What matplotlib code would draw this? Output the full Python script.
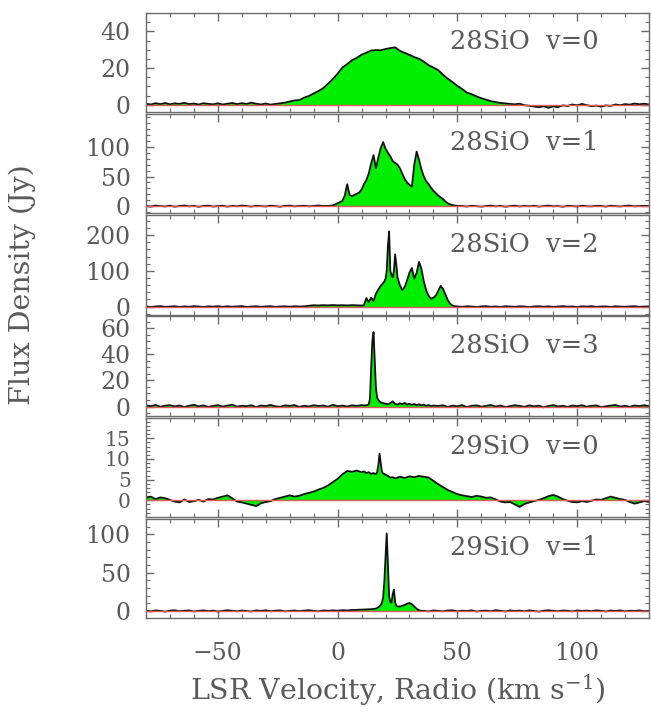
import matplotlib
matplotlib.use("Agg")
import matplotlib.pyplot as plt
from matplotlib.ticker import MultipleLocator, AutoMinorLocator, FixedLocator

# ---------------- spectra (velocity in km/s, flux density in Jy) ----------------
titles = ["28SiO  v=0", "28SiO  v=1", "28SiO  v=2", "28SiO  v=3", "29SiO  v=0", "29SiO  v=1"]

# 28SiO v=0
vel_28_v0 = list(range(-80, 131, 2))
flux_28_v0 = [
    0.6, 0.2, 0.9, 0.4, 1.0, 0.3, 0.8, 0.5, 1.1, 0.4, 0.7, 0.2, 0.9, 0.5, 0.3,
    0.8, 0.2, 0.6, 1.0, 0.4, 0.9, 0.5, 1.2, 0.6, 0.2, 0.7, 0.1, 0.5, 0.8,
    1.2, 1.8, 2.4, 2.6, 3.9, 4.8, 6.2, 7.5, 9.1, 11.5, 14.0, 17.0, 20.3, 22.2,
    24.3, 25.6, 27.3, 28.4, 29.6, 29.8, 29.7, 30.4, 30.9, 31.3, 29.4, 28.3, 27.2,
    26.0, 25.1, 23.5, 21.6, 20.3, 18.9, 16.4, 14.2, 12.4, 10.3, 8.6, 6.6, 5.8,
    4.6, 3.6, 2.8, 2.0, 1.5, 1.0, 0.8,
    0.5, 0.3, 0.6, -0.2, -0.5, -0.9, -1.3, -0.8, -1.6, -0.9, -1.2, -0.3, -0.6,
    0.2, -0.3, 0.5, -0.2, -0.7, -0.4, -1.0, -0.3, -0.6, 0.2, -0.2, 0.4, 0.1,
    0.7, 0.3, 0.6, 0.2,
]

# 28SiO v=1
vel_28_v1 = list(range(-80, -3, 2)) + list(range(-3, 51)) + list(range(52, 131, 2))
flux_28_v1 = [
    0.5, -0.6, 1.1, 0.2, -0.4, 0.9, -0.8, 0.3, 1.2, -0.2, 0.6, -0.9, 0.4, 1.0,
    -0.5, 0.2, 0.8, -0.7, 0.5, -0.1, 1.1, 0.3, -0.6, 0.7, 0.1, -0.4, 0.9, 0.2,
    -0.8, 0.6, 1.0, -0.3, 0.4, 0.8, -0.2, 0.5, 1.2, 0.3, 0.7,
    0.8, 1.5, 3.0, 5.0, 7.0, 9.0, 18.0, 37.0, 19.0, 17.0, 19.0, 21.0, 23.0, 28.0,
    37.0, 44.0, 55.0, 72.0, 86.0, 64.0, 82.0, 98.0, 108.0, 97.0, 90.0, 84.0,
    76.0, 73.0, 70.0, 64.0, 55.0, 46.0, 40.0, 36.0, 33.0, 70.0, 92.0, 78.0, 62.0,
    50.0, 42.0, 37.0, 31.0, 26.0, 22.0, 18.0, 15.0, 12.0, 8.0, 5.0, 3.0, 2.0,
    1.0, 0.5,
    0.3, -0.5, 0.8, 0.1, -0.7, 0.4, 1.0, -0.3, 0.6, -0.8, 0.2, 0.9, -0.4, 0.5,
    -0.1, 0.7, -0.6, 0.3, 1.1, -0.2, 0.4, -0.9, 0.6, 0.2, -0.5, 0.8, 0.0, -0.3,
    0.7, 0.4, -0.6, 0.9, 0.1, -0.4, 0.6, 1.0, -0.2, 0.3, 0.8, 0.2,
]

# 28SiO v=2
vel_28_v2 = (list(range(-80, 11, 2)) + list(range(11, 20))
             + [19.5, 20, 20.5, 21, 21.5, 22, 22.5, 23, 23.5, 24, 24.5, 25, 25.5]
             + list(range(26, 51)) + list(range(52, 131, 2)))
flux_28_v2 = [
    0.8, -1.2, 0.5, 1.4, -0.6, 0.2, 1.1, -0.9, 0.6, -0.3, 1.3, 0.4, -1.0, 0.7,
    0.1, 1.2, -0.5, 0.9, -0.2, 0.5, 1.5, -0.8, 0.3, 1.0, -0.4, 0.6, 1.2, -0.7,
    0.4, 0.9, -0.1, 1.1, 0.3, 0.8,
    2.5, 3.8, 3.2, 4.1, 3.5, 4.4, 3.6, 4.0, 3.3, 4.2, 3.7, 3.0,
    4.0, 24.0, 13.0, 25.0, 16.0, 36.0, 48.0, 58.0, 66.0,
    70.0, 78.0, 100.0, 170.0, 210.0, 100.0, 88.0, 82.0, 100.0, 146.0, 118.0, 82.0, 70.0,
    60.0, 46.0, 55.0, 73.0, 95.0, 108.0, 78.0, 95.0, 125.0, 105.0, 70.0, 45.0,
    30.0, 22.0, 25.0, 31.0, 44.0, 58.0, 50.0, 34.0, 18.0, 8.0, 3.0, 1.0, 0.5,
    -0.6, 1.0, 0.3, -1.1, 0.7, 1.3, -0.4, 0.5, -0.9, 1.2, 0.2, -0.5, 0.9, 0.4,
    -1.3, 0.6, 1.1, -0.2, 0.8, -0.7, 0.3, 1.4, -0.1, 0.5, -1.0, 0.9, 0.2, 1.2,
    -0.6, 0.4, 0.7, -0.8, 1.0, 0.1, -0.3, 0.6, 1.1, -0.5, 0.3, 0.8,
]

# 28SiO v=3
vel_28_v3 = (list(range(-80, 11, 2))
             + [11, 12, 12.5, 13, 13.5, 14, 14.5, 15, 15.5, 16, 16.5, 17, 17.5, 18, 19, 20]
             + list(range(21, 41)) + list(range(42, 131, 2)))
flux_28_v3 = [
    0.9, 0.3, 1.2, -0.2, 0.7, 1.0, 0.1, 0.8, -0.4, 0.6, 1.3, 0.2, 0.9, -0.3,
    0.5, 1.1, 0.0, 0.7, 1.4, -0.1, 0.6, 0.3, 1.0, -0.5, 0.8, 0.4, 1.2, 0.2,
    -0.2, 0.9, 0.5, 1.1, -0.3, 0.6, 0.1, 1.0, 0.4, 0.8, -0.1, 1.3, 0.3, 0.7,
    0.0, 0.9, 0.5, 1.1,
    0.8, 1.0, 1.2, 1.8, 6.0, 30.0, 50.0, 57.0, 35.0, 14.0, 7.0, 5.0, 4.0, 3.2,
    2.6, 2.2,
    1.8, 2.6, 4.0, 2.0, 1.5, 2.5, 1.8, 2.8, 1.5, 2.2, 1.2, 2.0, 1.0, 1.8, 0.8,
    1.5, 0.5, 1.2, 0.3, 0.8,
    0.4, 1.0, -0.3, 0.7, 0.2, 1.1, -0.5, 0.6, 0.9, -0.1, 0.5, 1.2, 0.0, 0.8,
    -0.4, 0.3, 1.0, 0.5, -0.2, 0.9, 0.2, 0.7, -0.6, 0.4, 1.1, 0.1, 0.6, -0.3,
    0.8, 0.3, 1.0, -0.1, 0.5, 0.9, -0.4, 0.2, 0.7, 1.2, 0.0, 0.6, -0.2, 0.8,
    0.4, 1.0, 0.3,
]

# 29SiO v=0
vel_29_v0 = (list(range(-80, 10, 2)) + list(range(10, 17))
             + [16.5, 17, 17.5, 18, 18.5, 19] + list(range(20, 27))
             + list(range(28, 131, 2)))
flux_29_v0 = [
    0.6, 0.9, 0.3, 0.7, 0.5, 0.1, -0.3, -0.5, 0.2, -0.4, -0.2, 0.1, -0.3, 0.3,
    0.2, 0.6, 0.9, 1.2, 0.5, -0.3, -0.5, -0.8, -1.1, -1.4, -0.7, -0.4, -0.2,
    0.3, 0.6, 0.9, 1.2, 0.9, 1.1, 1.5, 1.8, 2.1, 2.6, 3.0, 3.6, 4.4, 5.2, 6.3,
    7.1, 6.9, 7.2,
    6.8, 7.0, 6.6, 6.8, 6.4, 6.6, 6.3,
    6.8, 8.5, 11.3, 9.0, 6.9, 6.5,
    6.2, 5.9, 5.5, 5.6, 5.3, 5.5, 5.7,
    5.4, 5.8, 5.6, 5.9, 5.7, 5.5, 4.7, 3.9, 3.2, 2.5, 2.0, 1.5, 1.2, 1.0, 0.8,
    1.1, 0.9, 0.6, 0.7, 0.2, -0.3, -0.5, -0.4, -1.0, -1.6, -0.9, -0.5, -0.2,
    0.1, 0.5, 1.0, 1.3, 0.9, 0.3, -0.1, -0.4, -0.5, -0.2, -0.4, -0.1, 0.2, 0.1,
    0.5, 0.9, 0.6, 0.3, 0.1, -0.4, -0.8, -0.5, -0.2, -0.4,
]

# 29SiO v=1
vel_29_v1 = (list(range(-80, 15, 2))
             + [15, 15.5, 16, 16.5, 17, 17.5, 18, 18.5, 19, 19.5, 20, 20.5, 21,
                21.5, 22, 22.5, 23, 23.5, 24, 24.5, 25]
             + list(range(26, 36)) + list(range(36, 131, 2)))
flux_29_v1 = [
    0.5, -0.4, 0.9, 0.2, -0.7, 0.6, 1.0, -0.2, 0.4, 0.8, -0.5, 0.3, 0.9, -0.1,
    0.6, -0.6, 0.2, 1.1, 0.4, -0.3, 0.7, 0.1, -0.5, 0.8, 0.3, 1.0, -0.2, 0.5,
    0.9, -0.4, 0.2, 0.7, -0.1, 0.6, 1.1, 0.3, -0.3, 0.8, 0.4, 0.9,
    0.5, 1.2, 0.8, 1.4, 1.6, 1.9, 2.2, 2.5,
    2.8, 3.0, 3.3, 4.0, 5.0, 6.0, 8.0, 11.0, 18.0, 38.0, 70.0, 101.0, 60.0,
    20.0, 12.0, 11.0, 22.0, 28.0, 12.0, 7.0, 6.0,
    6.0, 7.0, 8.0, 9.5, 10.5, 9.0, 6.0, 3.0, 1.0, 0.3,
    0.4, -0.5, 0.8, 0.2, -0.3, 0.7, 1.0, -0.4, 0.5, 0.1, 0.9, -0.6, 0.3, 0.6,
    -0.2, 1.1, 0.4, -0.5, 0.8, 0.2, 0.6, -0.3, 0.9, 0.1, -0.7, 0.5, 1.0, 0.3,
    -0.2, 0.7, 0.4, -0.4, 0.8, 0.2, 0.6, -0.1, 1.0, 0.3, -0.5, 0.7, 0.1, 0.9,
    -0.3, 0.5, 0.2, 0.8, -0.2, 0.4,
]

velocities = [vel_28_v0, vel_28_v1, vel_28_v2, vel_28_v3, vel_29_v0, vel_29_v1]
fluxes = [flux_28_v0, flux_28_v1, flux_28_v2, flux_28_v3, flux_29_v0, flux_29_v1]

y_limits = [(-4, 50), (-12, 155), (-22, 255), (-7, 69), (-4, 20), (-9, 120)]
y_ticks = [[0, 20, 40], [0, 50, 100], [0, 100, 200], [0, 20, 40, 60],
           [0, 5, 10, 15], [0, 50, 100]]
x_limits = (-80, 130)
x_ticks = [-50, 0, 50, 100]

# ---------------- styling ----------------
FONT = "DejaVu Serif"
plt.rcParams["font.family"] = [FONT]
plt.rcParams["mathtext.fontset"] = "dejavuserif"
plt.rcParams["axes.unicode_minus"] = True

frame_col = "#6a6a6a"
text_col = "#5a5a5a"
fill_col = "#00ee00"
line_col = "#111111"
zero_col = "#e05a5a"

W, H = 651, 717
fig = plt.figure(figsize=(W / 100, H / 100), dpi=100)
top_px, bot_px, left_px, right_px = 13, 618, 146, 649
gs = fig.add_gridspec(6, 1, left=left_px / W, right=right_px / W,
                      top=1 - top_px / H, bottom=1 - bot_px / H, hspace=0.02)

for i in range(6):
    ax = fig.add_subplot(gs[i])
    v = velocities[i]
    f = fluxes[i]
    ax.fill_between(v, f, 0, color=fill_col, linewidth=0, zorder=1)
    ax.plot(v, f, color=line_col, lw=1.3, zorder=2)
    ax.axhline(0, color=zero_col, lw=1.0, zorder=3)

    ax.set_xlim(*x_limits)
    ax.set_ylim(*y_limits[i])
    ax.xaxis.set_major_locator(FixedLocator(x_ticks))
    ax.xaxis.set_minor_locator(MultipleLocator(10))
    ax.yaxis.set_major_locator(FixedLocator(y_ticks[i]))
    ax.yaxis.set_minor_locator(AutoMinorLocator())

    ax.tick_params(which="both", direction="in", top=True, right=True,
                   color=frame_col, labelcolor=text_col)
    ax.tick_params(which="major", length=6, width=1.0, labelsize=17)
    ax.tick_params(which="minor", length=3, width=0.8)
    ax.tick_params(axis="y", pad=11)
    ax.tick_params(axis="x", pad=17)
    if i == 4:
        # tightly spaced ticks (5 Jy steps): slightly smaller labels
        ax.tick_params(axis="y", labelsize=14.5)
    if i < 5:
        ax.tick_params(axis="x", labelbottom=False)
    for sp in ax.spines.values():
        sp.set_color(frame_col)
        sp.set_linewidth(1.0)

    ax.text(0.604, 0.71, titles[i], transform=ax.transAxes, ha="left",
            va="center", fontsize=18.5, color=text_col)

fig.text(22 / W, 1 - 285 / H, "Flux Density (Jy)", rotation=90, ha="center",
         va="center", fontsize=20.5, color=text_col)
fig.text((left_px + right_px) / 2 / W, 1 - 690 / H,
         r"LSR Velocity, Radio (km s$^{-1}$)", ha="center", va="center",
         fontsize=20.5, color=text_col)

fig.savefig("out.png", dpi=100)
